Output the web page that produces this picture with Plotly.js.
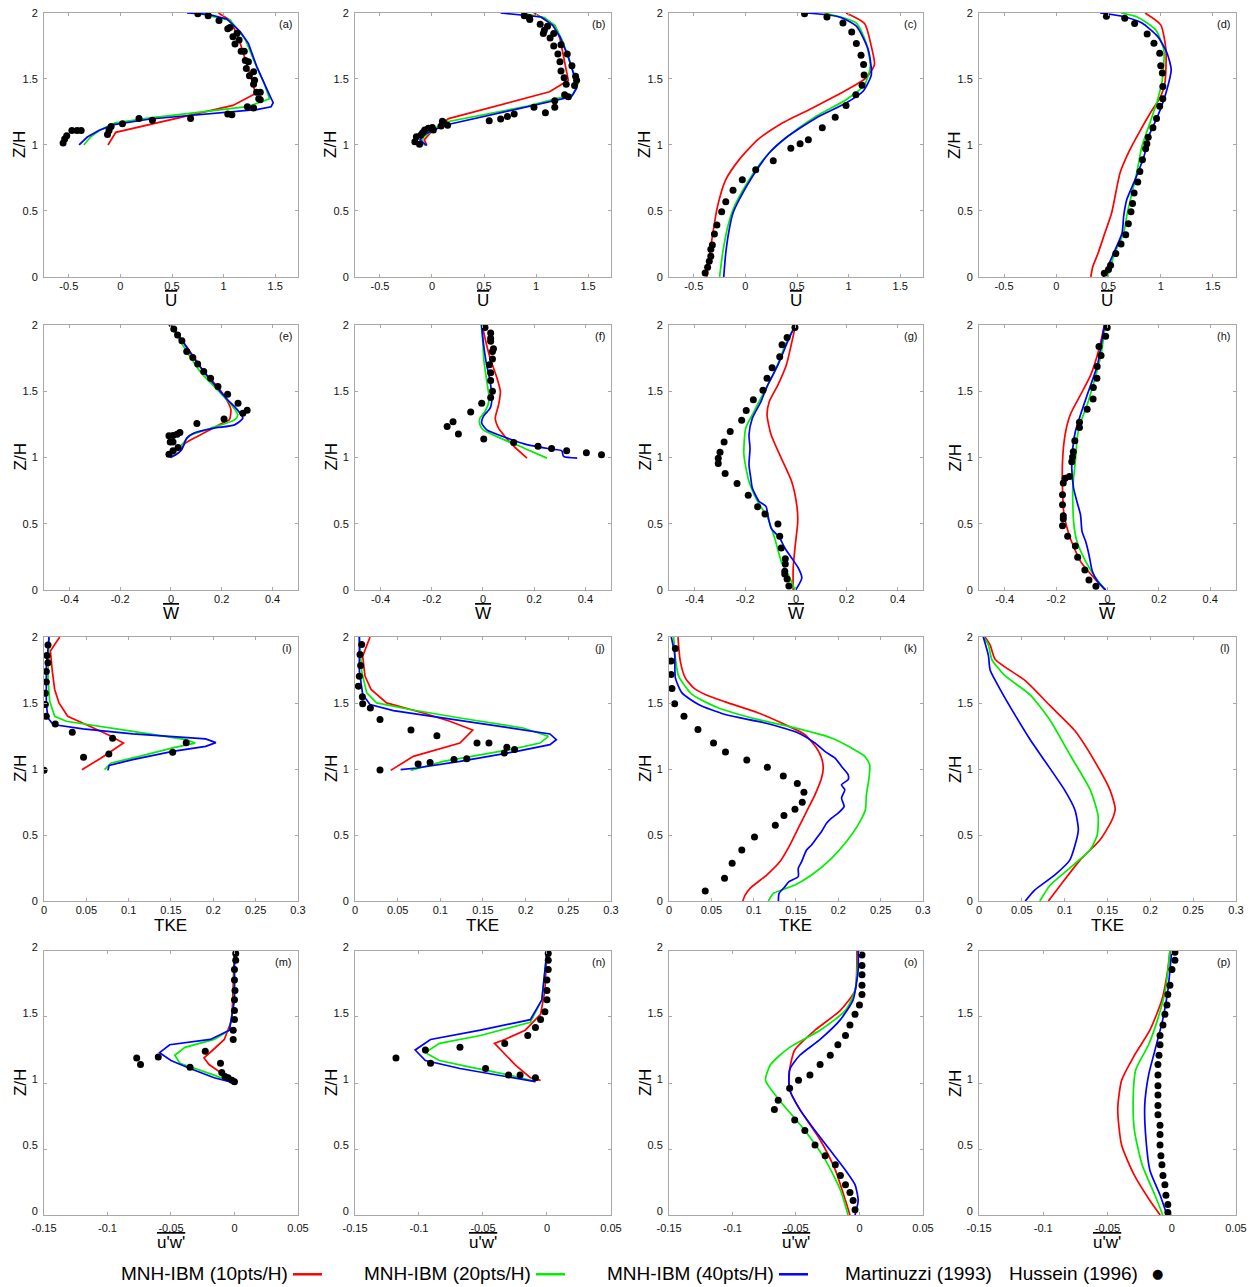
<!DOCTYPE html>
<html>
<head>
<meta charset="utf-8">
<script src="https://cdn.plot.ly/plotly-3.0.1.min.js"></script>
<style>html,body{margin:0;padding:0;background:#fff;}#chart{width:1254px;height:1287px;}</style>
</head>
<body>
<div id="chart"></div>
<script>
// ---------------- DATA: [value, Z/H] pairs ----------------
const a_red = [[-0.12,1.0],[-0.045,1.096],[1.09,1.30],[1.31,1.39],[1.26,1.525],[1.19,1.70],[1.145,1.81],[1.065,1.944],[0.95,2.0]];
const a_green = [[-0.355,1.0],[-0.29,1.06],[-0.19,1.116],[-0.05,1.167],[0.29,1.205],[0.77,1.247],[1.23,1.29],[1.445,1.35],[1.39,1.47],[1.29,1.646],[1.21,1.80],[1.065,1.944],[0.77,1.995]];
const a_blue = [[-0.40,1.0],[-0.32,1.06],[-0.21,1.11],[-0.065,1.154],[0.29,1.197],[0.77,1.23],[1.32,1.268],[1.46,1.29],[1.48,1.32],[1.45,1.37],[1.32,1.596],[1.24,1.77],[1.16,1.86],[1.03,1.955],[0.855,1.99],[0.645,2.0]];
const a_dots = [[0.75,1.995],[0.85,1.98],[0.955,1.944],[1.04,1.88],[1.06,1.89],[1.13,1.846],[1.09,1.82],[1.15,1.795],[1.11,1.765],[1.17,1.71],[1.2,1.71],[1.21,1.64],[1.24,1.63],[1.22,1.58],[1.29,1.555],[1.25,1.525],[1.30,1.49],[1.29,1.46],[1.32,1.40],[1.355,1.40],[1.34,1.35],[1.355,1.343],[1.23,1.29],[1.29,1.28],[1.04,1.235],[1.08,1.23],[0.68,1.20],[0.31,1.187],[0.18,1.20],[0.02,1.16],[-0.09,1.14],[-0.11,1.11],[-0.125,1.08],[-0.38,1.11],[-0.42,1.11],[-0.47,1.11],[-0.52,1.07],[-0.54,1.045],[-0.555,1.015]];

const b_red = [[-0.05,1.0],[-0.075,1.038],[-0.02,1.088],[0.16,1.20],[1.13,1.403],[1.31,1.49],[1.23,1.806],[1.18,1.907],[0.98,2.0]];
const b_green = [[-0.07,0.995],[-0.1,1.038],[-0.07,1.068],[-0.003,1.106],[0.11,1.17],[0.92,1.295],[1.356,1.383],[1.405,1.466],[1.34,1.59],[1.26,1.78],[1.18,1.907],[1.08,1.965],[0.855,2.0]];
const b_blue = [[-0.05,0.995],[-0.115,1.038],[-0.08,1.076],[0.013,1.113],[0.175,1.159],[1.34,1.365],[1.39,1.43],[1.37,1.516],[1.31,1.668],[1.23,1.819],[1.16,1.907],[1.05,1.97],[0.66,2.0]];
const b_dots = [[0.887,1.98],[0.935,1.965],[0.94,1.95],[1.04,1.915],[1.11,1.90],[1.08,1.87],[1.07,1.845],[1.17,1.845],[1.135,1.81],[1.17,1.75],[1.24,1.76],[1.21,1.69],[1.30,1.69],[1.23,1.63],[1.345,1.60],[1.24,1.56],[1.27,1.51],[1.38,1.52],[1.39,1.49],[1.37,1.45],[1.29,1.46],[1.275,1.38],[1.31,1.365],[1.18,1.335],[1.18,1.285],[0.98,1.285],[1.09,1.245],[0.79,1.235],[0.725,1.215],[0.66,1.196],[0.55,1.184],[0.15,1.15],[0.10,1.18],[0.11,1.17],[0.087,1.144],[0.003,1.133],[0.013,1.113],[-0.035,1.126],[-0.07,1.113],[-0.09,1.093],[-0.107,1.076],[-0.15,1.063],[-0.165,1.025],[-0.12,1.005]];

const c_red = [[-0.375,0],[-0.325,0.283],[-0.27,0.535],[-0.19,0.737],[-0.06,0.889],[0.12,1.04],[0.33,1.154],[0.65,1.28],[0.975,1.414],[1.17,1.508],[1.25,1.61],[1.22,1.747],[1.155,1.92],[0.975,2.0]];
const c_green = [[-0.25,0],[-0.22,0.182],[-0.17,0.384],[-0.12,0.51],[-0.04,0.636],[0.10,0.813],[0.23,0.939],[0.39,1.053],[0.685,1.217],[0.975,1.343],[1.155,1.457],[1.21,1.596],[1.17,1.773],[1.075,1.924],[0.765,2.0]];
const c_blue = [[-0.21,0],[-0.19,0.182],[-0.157,0.359],[-0.12,0.485],[-0.06,0.586],[0.07,0.763],[0.23,0.939],[0.39,1.053],[0.685,1.205],[0.975,1.318],[1.14,1.407],[1.22,1.533],[1.19,1.722],[1.075,1.9],[0.91,1.97],[0.59,2.0]];
const c_dots = [[0.573,1.995],[0.79,1.97],[0.945,1.924],[1.03,1.856],[1.075,1.768],[1.12,1.68],[1.145,1.61],[1.15,1.53],[1.13,1.452],[1.07,1.38],[0.975,1.30],[0.87,1.21],[0.745,1.13],[0.61,1.04],[0.53,1.01],[0.44,0.975],[0.27,0.88],[0.10,0.813],[-0.03,0.737],[-0.12,0.657],[-0.19,0.57],[-0.23,0.495],[-0.276,0.394],[-0.30,0.326],[-0.32,0.242],[-0.335,0.21],[-0.335,0.157],[-0.35,0.12],[-0.366,0.073],[-0.39,0.03]];

const d_red = [[0.33,0],[0.35,0.08],[0.40,0.18],[0.465,0.333],[0.53,0.485],[0.61,0.788],[0.69,0.94],[0.79,1.09],[0.90,1.242],[1.0,1.369],[1.04,1.47],[1.05,1.72],[1.0,1.91],[0.85,2.0]];
const d_green = [[0.49,0],[0.56,0.182],[0.645,0.333],[0.68,0.485],[0.725,0.636],[0.77,0.788],[0.82,0.99],[0.885,1.141],[0.97,1.343],[1.015,1.495],[1.03,1.72],[0.95,1.874],[0.775,1.97],[0.62,2.0]];
const d_blue = [[0.45,0],[0.55,0.182],[0.63,0.333],[0.645,0.46],[0.675,0.586],[0.755,0.737],[0.84,0.914],[0.885,1.066],[0.97,1.217],[1.05,1.394],[1.10,1.57],[1.06,1.697],[0.97,1.823],[0.82,1.924],[0.63,1.975],[0.42,2.0]];
const d_dots = [[0.48,1.975],[0.655,1.96],[0.75,1.92],[0.87,1.84],[0.935,1.77],[0.99,1.695],[1.0,1.60],[1.015,1.545],[1.02,1.444],[1.02,1.35],[0.99,1.293],[0.96,1.20],[0.925,1.13],[0.88,1.058],[0.867,1.01],[0.855,0.972],[0.825,0.889],[0.80,0.80],[0.78,0.72],[0.745,0.636],[0.73,0.556],[0.715,0.495],[0.69,0.404],[0.665,0.32],[0.62,0.25],[0.57,0.177],[0.52,0.088],[0.50,0.056],[0.46,0.028]];

const e_red = [[0,1.0],[0.035,1.045],[0.056,1.108],[0.115,1.17],[0.209,1.266],[0.23,1.284],[0.236,1.36],[0.223,1.422],[0.183,1.535],[0.129,1.648],[0.075,1.80],[0.028,1.925],[0,2.0]];
const e_green = [[0,1.0],[0.021,1.045],[0.048,1.108],[0.075,1.166],[0.156,1.221],[0.25,1.284],[0.263,1.32],[0.236,1.402],[0.183,1.51],[0.115,1.648],[0.062,1.80],[0.021,1.925],[-0.005,2.0]];
const e_blue = [[-0.005,1.0],[0.019,1.02],[0.042,1.058],[0.062,1.146],[0.089,1.183],[0.169,1.221],[0.25,1.246],[0.283,1.296],[0.256,1.372],[0.223,1.435],[0.183,1.523],[0.129,1.648],[0.068,1.812],[0.028,1.925],[-0.008,2.0]];
const e_dots = [[0.011,1.97],[0.026,1.925],[0.043,1.88],[0.062,1.80],[0.086,1.754],[0.105,1.706],[0.129,1.648],[0.156,1.598],[0.185,1.535],[0.223,1.477],[0.264,1.41],[0.30,1.357],[0.283,1.334],[0.209,1.29],[0.102,1.256],[0.035,1.188],[0.024,1.176],[0.008,1.166],[-0.008,1.163],[-0.003,1.116],[0.008,1.116],[0.028,1.075],[0.008,1.05],[-0.008,1.025]];

const f_red = [[0.172,0.995],[0.121,1.083],[0.081,1.17],[0.061,1.221],[0.048,1.296],[0.061,1.397],[0.068,1.497],[0.055,1.598],[0.028,1.749],[0.008,1.90],[-0.003,2.0]];
const f_green = [[0.25,0.995],[0.161,1.07],[0.068,1.146],[0.001,1.208],[-0.012,1.246],[-0.012,1.296],[0.008,1.347],[0.024,1.435],[0.015,1.573],[0.004,1.724],[-0.001,1.874],[-0.007,2.0]];
const f_blue = [[0.368,0.995],[0.315,1.008],[0.308,1.05],[0.268,1.063],[0.175,1.095],[0.095,1.146],[0.015,1.208],[-0.005,1.259],[0.001,1.309],[0.028,1.372],[0.035,1.447],[0.028,1.573],[0.012,1.724],[0.001,1.874],[-0.005,2.0]];
const f_dots = [[0.008,1.98],[0.03,1.94],[0.03,1.90],[0.03,1.877],[0.041,1.82],[0.037,1.80],[0.037,1.744],[0.025,1.70],[0.03,1.64],[0.03,1.58],[0.037,1.50],[0.03,1.452],[-0.005,1.41],[-0.048,1.344],[-0.117,1.27],[-0.14,1.234],[-0.096,1.178],[0.003,1.14],[0.12,1.113],[0.215,1.085],[0.268,1.068],[0.327,1.05],[0.404,1.035],[0.463,1.02]];

const g_red = [[-0.011,0],[-0.011,0.166],[-0.004,0.317],[0.007,0.518],[0.003,0.643],[-0.017,0.819],[-0.058,0.995],[-0.098,1.171],[-0.114,1.322],[-0.105,1.422],[-0.071,1.548],[-0.038,1.698],[-0.013,1.90],[-0.004,1.98]];
const g_green = [[-0.004,0],[-0.024,0.09],[-0.058,0.216],[-0.084,0.392],[-0.111,0.543],[-0.151,0.668],[-0.185,0.819],[-0.205,1.02],[-0.198,1.221],[-0.165,1.347],[-0.125,1.497],[-0.084,1.648],[-0.031,1.90],[-0.007,1.98]];
const g_blue = [[-0.001,0],[0.023,0.09],[0.009,0.166],[-0.017,0.241],[-0.044,0.317],[-0.064,0.392],[-0.098,0.467],[-0.111,0.568],[-0.118,0.631],[-0.145,0.668],[-0.172,0.769],[-0.178,0.844],[-0.185,0.945],[-0.181,1.07],[-0.185,1.171],[-0.172,1.296],[-0.138,1.422],[-0.111,1.548],[-0.071,1.698],[-0.027,1.90],[-0.007,1.98]];
const g_dots = [[-0.004,1.98],[-0.035,1.905],[-0.055,1.85],[-0.064,1.76],[-0.094,1.678],[-0.114,1.598],[-0.13,1.508],[-0.168,1.435],[-0.196,1.354],[-0.214,1.281],[-0.259,1.196],[-0.283,1.116],[-0.299,1.04],[-0.306,0.995],[-0.306,0.955],[-0.279,0.879],[-0.232,0.804],[-0.188,0.714],[-0.151,0.628],[-0.122,0.573],[-0.071,0.497],[-0.064,0.405],[-0.058,0.317],[-0.042,0.236],[-0.042,0.196],[-0.044,0.141],[-0.044,0.121],[-0.035,0.083],[-0.028,0.03]];

const h_red = [[-0.009,0],[-0.052,0.09],[-0.105,0.216],[-0.145,0.392],[-0.169,0.568],[-0.175,0.769],[-0.175,0.97],[-0.165,1.171],[-0.145,1.322],[-0.105,1.472],[-0.065,1.623],[-0.032,1.824],[-0.012,2.0]];
const h_green = [[-0.009,0],[-0.045,0.09],[-0.085,0.216],[-0.119,0.367],[-0.132,0.518],[-0.135,0.769],[-0.125,0.97],[-0.116,1.171],[-0.099,1.296],[-0.079,1.397],[-0.052,1.573],[-0.025,1.774],[-0.009,2.0]];
const h_blue = [[-0.007,0],[-0.039,0.065],[-0.059,0.141],[-0.072,0.266],[-0.085,0.367],[-0.099,0.442],[-0.105,0.568],[-0.119,0.668],[-0.132,0.769],[-0.139,0.92],[-0.135,1.07],[-0.125,1.196],[-0.105,1.322],[-0.079,1.472],[-0.039,1.698],[-0.012,2.0]];
const h_dots = [[-0.001,1.98],[-0.007,1.915],[-0.033,1.837],[-0.025,1.77],[-0.04,1.686],[-0.041,1.598],[-0.055,1.528],[-0.056,1.442],[-0.079,1.364],[-0.109,1.266],[-0.109,1.226],[-0.127,1.126],[-0.133,1.043],[-0.136,1.003],[-0.139,0.967],[-0.148,0.857],[-0.165,0.844],[-0.172,0.807],[-0.175,0.719],[-0.175,0.643],[-0.172,0.56],[-0.172,0.538],[-0.175,0.485],[-0.155,0.405],[-0.125,0.332],[-0.116,0.246],[-0.088,0.151],[-0.072,0.075],[-0.045,0.028]];

const i_red = [[0.0448,0.995],[0.0675,1.084],[0.0938,1.197],[0.077,1.256],[0.054,1.324],[0.028,1.40],[0.0177,1.501],[0.0126,1.603],[0.0098,1.742],[0.0075,1.894],[0.0185,2.0]];
const i_green = [[0.0715,0.995],[0.0793,1.046],[0.1127,1.096],[0.152,1.16],[0.1786,1.197],[0.1677,1.223],[0.1048,1.286],[0.0656,1.324],[0.0263,1.362],[0.0126,1.40],[0.0067,1.514],[0.0047,1.691],[0.0059,2.0]];
const i_blue = [[0.0754,0.99],[0.077,1.028],[0.1048,1.071],[0.152,1.134],[0.191,1.172],[0.203,1.20],[0.191,1.228],[0.1048,1.266],[0.046,1.304],[0.0106,1.337],[0.0047,1.387],[0.0027,1.489],[0.0027,1.767],[0.0059,2.0]];
const i_dots = [[0.0047,1.94],[0.0035,1.86],[0.0047,1.805],[0.0027,1.74],[0.0027,1.66],[0.0016,1.575],[0.0016,1.49],[0.0027,1.40],[0.0133,1.342],[0.0334,1.278],[0.081,1.233],[0.168,1.20],[0.152,1.127],[0.0766,1.114],[0.0467,1.089],[0.0,0.99]];

const j_red = [[0.0418,0.99],[0.0684,1.096],[0.123,1.197],[0.138,1.296],[0.111,1.362],[0.08,1.425],[0.037,1.501],[0.0188,1.603],[0.0117,1.704],[0.009,1.856],[0.0176,2.0]];
const j_green = [[0.0652,0.99],[0.1035,1.058],[0.1816,1.147],[0.2168,1.197],[0.2266,1.248],[0.197,1.311],[0.123,1.387],[0.0645,1.451],[0.0254,1.501],[0.0137,1.577],[0.0078,1.742],[0.0051,2.0]];
const j_blue = [[0.0535,0.995],[0.0723,1.008],[0.123,1.058],[0.1895,1.134],[0.2285,1.185],[0.236,1.223],[0.2285,1.266],[0.1816,1.311],[0.1035,1.387],[0.045,1.443],[0.0176,1.489],[0.009,1.565],[0.0051,1.742],[0.0051,2.0]];
const j_dots = [[0.0078,1.944],[0.0059,1.868],[0.0066,1.785],[0.0051,1.704],[0.0039,1.628],[0.0086,1.547],[0.009,1.494],[0.018,1.463],[0.0293,1.375],[0.0656,1.296],[0.096,1.253],[0.143,1.197],[0.157,1.197],[0.178,1.165],[0.187,1.149],[0.175,1.122],[0.131,1.078],[0.116,1.073],[0.088,1.05],[0.074,1.038],[0.0293,0.992]];

const k_red = [[0.0872,0],[0.09,0.046],[0.0958,0.096],[0.1154,0.197],[0.1311,0.299],[0.1429,0.425],[0.1527,0.552],[0.1625,0.678],[0.1724,0.805],[0.1802,0.932],[0.1822,1.008],[0.1802,1.084],[0.1743,1.159],[0.1606,1.261],[0.137,1.337],[0.1056,1.425],[0.0664,1.509],[0.0428,1.565],[0.0291,1.615],[0.0192,1.691],[0.0133,1.818],[0.0106,2.0]];
const k_green = [[0.1174,0],[0.1233,0.058],[0.1331,0.084],[0.1488,0.122],[0.1684,0.197],[0.192,0.324],[0.2097,0.451],[0.2234,0.577],[0.232,0.691],[0.2332,0.805],[0.2363,0.932],[0.2371,1.033],[0.2313,1.096],[0.2156,1.159],[0.192,1.235],[0.1527,1.306],[0.1056,1.375],[0.0585,1.463],[0.0271,1.565],[0.0114,1.704],[0.0075,1.843],[0.0055,2.0]];
const k_blue = [[0.1292,0],[0.13,0.058],[0.137,0.109],[0.1417,0.147],[0.1527,0.185],[0.1527,0.248],[0.1567,0.299],[0.1625,0.387],[0.1684,0.425],[0.1743,0.476],[0.1802,0.527],[0.1861,0.59],[0.192,0.628],[0.1998,0.666],[0.2069,0.716],[0.2038,0.78],[0.2077,0.843],[0.2038,0.881],[0.2116,0.919],[0.2116,0.957],[0.2038,1.02],[0.1959,1.084],[0.1841,1.134],[0.1724,1.197],[0.1527,1.273],[0.1135,1.349],[0.0664,1.413],[0.0349,1.489],[0.0153,1.577],[0.0075,1.691],[0.0067,1.868],[0.0027,2.0]];
const k_dots = [[0.0075,1.914],[0.0024,1.818],[0.0024,1.716],[0.0035,1.61],[0.0067,1.494],[0.0177,1.40],[0.0342,1.299],[0.0526,1.197],[0.0667,1.129],[0.0919,1.068],[0.1162,1.013],[0.135,0.947],[0.1516,0.891],[0.1594,0.825],[0.1574,0.749],[0.1488,0.696],[0.1358,0.648],[0.1256,0.575],[0.101,0.486],[0.086,0.387],[0.0746,0.286],[0.0656,0.172],[0.0428,0.076]];

const l_red = [[0.081,0],[0.095,0.12],[0.118,0.31],[0.141,0.46],[0.155,0.61],[0.159,0.70],[0.153,0.84],[0.135,1.06],[0.112,1.29],[0.083,1.48],[0.054,1.67],[0.019,1.83],[0.013,1.94],[0.007,2.0]];
const l_green = [[0.071,0],[0.083,0.12],[0.106,0.25],[0.13,0.39],[0.138,0.5],[0.139,0.65],[0.13,0.84],[0.106,1.11],[0.083,1.37],[0.06,1.56],[0.03,1.71],[0.015,1.83],[0.011,1.94],[0.005,2.0]];
const l_blue = [[0.054,0],[0.065,0.083],[0.089,0.2],[0.106,0.31],[0.112,0.42],[0.116,0.54],[0.112,0.69],[0.1,0.84],[0.077,1.06],[0.06,1.22],[0.042,1.41],[0.025,1.6],[0.013,1.75],[0.011,1.86],[0.005,2.0]];
const l_dots = [];

const m_red = [[0,1.0],[-0.008,1.06],[-0.02,1.14],[-0.024,1.19],[-0.017,1.25],[-0.008,1.33],[-0.002,1.48],[0,2.0]];
const m_green = [[0,1.0],[-0.016,1.06],[-0.031,1.11],[-0.043,1.15],[-0.047,1.21],[-0.039,1.27],[-0.016,1.33],[-0.004,1.40],[0,1.63],[0,2.0]];
const m_blue = [[0,1.0],[-0.016,1.04],[-0.035,1.11],[-0.05,1.17],[-0.059,1.23],[-0.051,1.29],[-0.019,1.33],[-0.004,1.40],[0,1.63],[0,2.0]];
const m_dots = [[-0.077,1.19],[-0.074,1.14],[-0.06,1.197],[-0.035,1.12],[-0.023,1.24],[-0.011,1.15],[-0.01,1.08],[-0.0075,1.05],[-0.005,1.04],[-0.002,1.02],[0,1.01],[-0.001,1.33],[-0.001,1.40],[0,1.48],[0,1.55],[0,1.63],[0.0004,1.70],[0,1.78],[0,1.86],[0.001,1.93],[0.001,1.98]];

const n_red = [[-0.005,1.02],[-0.013,1.04],[-0.025,1.14],[-0.041,1.30],[-0.033,1.33],[-0.017,1.40],[-0.005,1.52],[-0.0016,1.70],[0,2.0]];
const n_green = [[-0.009,1.01],[-0.029,1.06],[-0.06,1.12],[-0.084,1.17],[-0.095,1.23],[-0.084,1.30],[-0.052,1.36],[-0.013,1.46],[-0.004,1.63],[0,2.0]];
const n_blue = [[-0.009,1.01],[-0.037,1.06],[-0.068,1.11],[-0.095,1.17],[-0.103,1.25],[-0.091,1.33],[-0.052,1.40],[-0.013,1.48],[-0.004,1.63],[0,2.0]];
const n_dots = [[-0.118,1.19],[-0.095,1.25],[-0.091,1.15],[-0.068,1.27],[-0.048,1.11],[-0.033,1.30],[-0.03,1.06],[-0.021,1.06],[-0.009,1.04],[-0.015,1.36],[-0.009,1.42],[-0.005,1.48],[-0.0016,1.54],[0,1.63],[0,1.70],[0,1.78],[0.001,1.86],[0.001,1.93],[0.001,1.98]];

const o_red = [[-0.0075,0],[-0.011,0.11],[-0.019,0.34],[-0.031,0.57],[-0.047,0.80],[-0.055,0.95],[-0.055,1.10],[-0.051,1.25],[-0.035,1.40],[-0.015,1.55],[-0.0035,1.70],[-0.002,1.93],[-0.002,2.0]];
const o_green = [[-0.009,0],[-0.015,0.19],[-0.027,0.42],[-0.043,0.64],[-0.063,0.87],[-0.074,1.02],[-0.07,1.14],[-0.055,1.27],[-0.031,1.40],[-0.011,1.55],[-0.0035,1.70],[-0.001,2.0]];
const o_blue = [[-0.0035,0],[-0.001,0.11],[-0.0035,0.23],[-0.011,0.34],[-0.023,0.49],[-0.035,0.64],[-0.047,0.80],[-0.055,0.95],[-0.055,1.10],[-0.047,1.21],[-0.031,1.33],[-0.015,1.48],[-0.005,1.63],[-0.001,1.86],[-0.001,2.0]];
const o_dots = [[0.002,1.97],[0.002,1.89],[0.002,1.82],[0.002,1.74],[0.002,1.67],[0,1.59],[-0.0035,1.52],[-0.0075,1.44],[-0.011,1.36],[-0.017,1.29],[-0.023,1.21],[-0.031,1.14],[-0.039,1.06],[-0.048,1.02],[-0.055,0.96],[-0.064,0.87],[-0.067,0.80],[-0.051,0.72],[-0.043,0.64],[-0.035,0.53],[-0.027,0.45],[-0.019,0.38],[-0.015,0.30],[-0.011,0.23],[-0.0075,0.17],[-0.005,0.11],[-0.0035,0.04]];

const p_red = [[-0.009,0],[-0.017,0.11],[-0.029,0.30],[-0.039,0.53],[-0.042,0.80],[-0.039,1.02],[-0.029,1.21],[-0.017,1.40],[-0.0076,1.63],[-0.003,1.86],[-0.0014,2.0]];
const p_green = [[-0.007,0],[-0.013,0.15],[-0.023,0.38],[-0.029,0.64],[-0.03,0.87],[-0.028,1.10],[-0.018,1.29],[-0.011,1.48],[-0.005,1.70],[-0.0014,2.0]];
const p_blue = [[-0.0037,0],[-0.009,0.15],[-0.017,0.34],[-0.02,0.57],[-0.021,0.83],[-0.018,1.06],[-0.013,1.25],[-0.007,1.48],[-0.003,1.70],[0,2.0]];
const p_dots = [[0.0025,1.99],[0.0025,1.93],[0.0002,1.86],[-0.0014,1.74],[-0.003,1.67],[-0.0037,1.59],[-0.0053,1.52],[-0.0068,1.44],[-0.0091,1.36],[-0.0091,1.29],[-0.0099,1.21],[-0.0107,1.14],[-0.0107,1.06],[-0.0107,0.98],[-0.0107,0.91],[-0.0107,0.83],[-0.0107,0.76],[-0.0091,0.68],[-0.0091,0.61],[-0.0091,0.53],[-0.0084,0.45],[-0.0076,0.38],[-0.0068,0.30],[-0.0053,0.23],[-0.0045,0.15],[-0.003,0.08],[-0.003,0.02]];

const panelLabels = ['(a)','(b)','(c)','(d)','(e)','(f)','(g)','(h)','(i)','(j)','(k)','(l)','(m)','(n)','(o)','(p)'];
const rowXTicks = [[-0.5,0,0.5,1,1.5],[-0.4,-0.2,0,0.2,0.4],[0,0.05,0.1,0.15,0.2,0.25,0.3],[-0.15,-0.1,-0.05,0,0.05]];
const rowXTitles = ['<span style="text-decoration:overline">U</span>','<span style="text-decoration:overline">W</span>','TKE','<span style="text-decoration:overline">u\'w\'</span>'];
const yTitle = 'Z/H';
const zTicks = [0,0.5,1,1.5,2];
const legendNames = ['MNH-IBM (10pts/H)','MNH-IBM (20pts/H)','MNH-IBM (40pts/H)','Martinuzzi (1993)','Hussein (1996)'];

// ---------------- LAYOUT / STYLE ----------------
const rowXRanges = [[-0.74,1.72],[-0.5,0.5],[0,0.3],[-0.15,0.05]];
const colDomains = [[0.0351,0.2376],[0.2831,0.4872],[0.5335,0.7360],[0.7807,0.9856]];
const rowDomains = [[0.7848,0.9899],[0.5416,0.7475],[0.2999,0.5050],[0.0559,0.2611]];
const COLORS = {red:'#ff0000', green:'#00ee00', blue:'#0000ff'};
const FONT = 'Liberation Sans, Arial, sans-serif';
const linearPanels = [0,1,8,9,12,13];

const panels = [
  [a_red,a_green,a_blue,a_dots],[b_red,b_green,b_blue,b_dots],[c_red,c_green,c_blue,c_dots],[d_red,d_green,d_blue,d_dots],
  [e_red,e_green,e_blue,e_dots],[f_red,f_green,f_blue,f_dots],[g_red,g_green,g_blue,g_dots],[h_red,h_green,h_blue,h_dots],
  [i_red,i_green,i_blue,i_dots],[j_red,j_green,j_blue,j_dots],[k_red,k_green,k_blue,k_dots],[l_red,l_green,l_blue,l_dots],
  [m_red,m_green,m_blue,m_dots],[n_red,n_green,n_blue,n_dots],[o_red,o_green,o_blue,o_dots],[p_red,p_green,p_blue,p_dots]
];

const traces = [];
const layout = {
  width:1254, height:1287,
  margin:{l:0,r:0,t:0,b:0},
  paper_bgcolor:'#fff', plot_bgcolor:'#fff',
  showlegend:false,
  font:{family:FONT, color:'#000', size:11},
  annotations:[], shapes:[]
};

panels.forEach((p, idx) => {
  const row = Math.floor(idx/4), col = idx%4;
  const sfx = idx === 0 ? '' : String(idx+1);
  const xa = 'x'+sfx, ya = 'y'+sfx;
  const shape = linearPanels.includes(idx) ? 'linear' : 'spline';
  ['red','green','blue'].forEach((c, ci) => {
    traces.push({
      type:'scatter', mode:'lines', xaxis:xa, yaxis:ya,
      x:p[ci].map(v=>v[0]), y:p[ci].map(v=>v[1]),
      line:{color:COLORS[c], width:1.7, shape:shape, smoothing:0.6},
      hoverinfo:'skip'
    });
  });
  if (p[3].length) {
    traces.push({
      type:'scatter', mode:'markers', xaxis:xa, yaxis:ya,
      x:p[3].map(v=>v[0]), y:p[3].map(v=>v[1]),
      marker:{color:'#000', size:7, symbol:'circle'}, hoverinfo:'skip'
    });
  }
  const axCommon = {
    showline:true, linecolor:'#a8a8a8', linewidth:1, mirror:'ticks',
    ticks:'inside', ticklen:3, tickcolor:'#a8a8a8',
    showgrid:false, zeroline:false,
    tickfont:{family:FONT, size:11, color:'#111'}
  };
  layout['xaxis'+sfx] = Object.assign({}, axCommon, {
    domain:colDomains[col], anchor:ya, range:rowXRanges[row],
    tickmode:'array', tickvals:rowXTicks[row], ticktext:rowXTicks[row].map(String),
    ticklabelstandoff: row === 3 ? 3 : -1
  });
  layout['yaxis'+sfx] = Object.assign({}, axCommon, {
    domain:rowDomains[row], anchor:xa, range:[0,2],
    tickmode:'array', tickvals:zTicks, ticktext:zTicks.map(String),
    ticklabelstandoff:3, ticklabelshift: row === 3 ? -4 : 0
  });
  // axis titles as annotations for precise placement
  layout.annotations.push({
    text:rowXTitles[row], xref:xa+' domain', yref:ya+' domain',
    x:0.5, y:0, yshift: row === 3 ? -27 : -24, xanchor:'center', yanchor:'middle', showarrow:false,
    font:{family:FONT, size:17, color:'#000'}
  });
  layout.annotations.push({
    text:yTitle, xref:xa+' domain', yref:ya+' domain', textangle:-90,
    x:0, y:0.5, xshift:-24, xanchor:'center', yanchor:'middle', showarrow:false,
    font:{family:FONT, size:17, color:'#000'}
  });
  layout.annotations.push({
    text:panelLabels[idx], xref:xa+' domain', yref:ya+' domain',
    x:0.985, y:0.99, xanchor:'right', yanchor:'top', showarrow:false,
    font:{family:FONT, size:11, color:'#111'}
  });
});

// custom legend (text followed by symbol)
const legY = 1 - 1273/1287;
const legTextRight = [290, 533, 776, 994, 1140];
const legColors = [COLORS.red, COLORS.green, COLORS.blue];
legendNames.forEach((name, i) => {
  layout.annotations.push({
    text:name, xref:'paper', yref:'paper', x:legTextRight[i]/1254, y:legY,
    xanchor:'right', yanchor:'middle', showarrow:false,
    font:{family:FONT, size:19, color:'#000'}
  });
  if (i < 3) {
    const x0 = (legTextRight[i]+3)/1254, x1 = (legTextRight[i]+32)/1254;
    layout.shapes.push({type:'line', xref:'paper', yref:'paper', x0:x0, x1:x1, y0:legY-0.001, y1:legY-0.001,
      line:{color:legColors[i], width:2.5}});
  }
});
layout.annotations.push({
  text:'●', xref:'paper', yref:'paper', x:1157/1254, y:legY, xanchor:'center', yanchor:'middle',
  showarrow:false, font:{family:'DejaVu Sans', size:13, color:'#000'}
});

Plotly.newPlot('chart', traces, layout, {staticPlot:true});
</script>
</body>
</html>
